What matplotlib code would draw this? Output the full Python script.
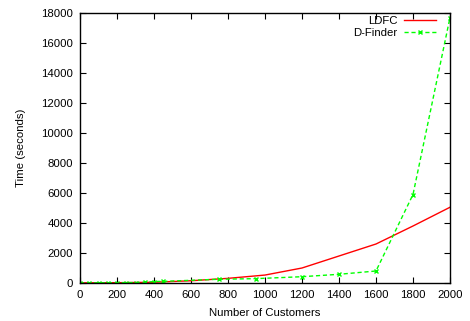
import matplotlib
matplotlib.use("Agg")
import matplotlib.pyplot as plt

plt.rcParams['font.family'] = ['Liberation Sans', 'DejaVu Sans']

ldfc_x = [0, 200, 400, 600, 800, 1000, 1200, 1400, 1600, 1800, 2000]
ldfc_y = [10, 20, 50, 150, 310, 530, 1000, 1800, 2600, 3800, 5050]

dfinder_x = [0, 50, 100, 150, 200, 250, 300, 350, 400, 450, 750, 950, 1200, 1400, 1600, 1800, 2000]
dfinder_y = [5, 8, 10, 15, 20, 25, 30, 40, 100, 110, 250, 290, 420, 580, 800, 5900, 17700]

fig = plt.figure(figsize=(4.7, 3.21), dpi=100)
ax = fig.add_axes([80/470, 1-283/321, 370/470, 270/321])

ax.plot(ldfc_x, ldfc_y, color='#ff0000', lw=1.0, label='LDFC')
ax.plot(dfinder_x, dfinder_y, color='#00ff00', lw=1.0, ls=(0, (3, 2)),
        marker='x', ms=3.2, mew=1.0, label='D-Finder')

ax.set_xlim(0, 2000)
ax.set_ylim(0, 18000)
ax.set_xticks(range(0, 2001, 200))
ax.set_yticks(range(0, 18001, 2000))
ax.tick_params(direction='in', top=True, right=True, length=4, width=0.8, labelsize=8.2, pad=5)
for s in ax.spines.values():
    s.set_linewidth(1.0)
ax.set_xlabel('Number of Customers', fontsize=8.2, labelpad=6)
ax.set_ylabel('Time (seconds)', fontsize=8.2, labelpad=11)

leg = ax.legend(loc='upper right', frameon=False, markerfirst=False, fontsize=8.2,
                handlelength=2.8, borderaxespad=0, borderpad=0, labelspacing=0.15,
                handletextpad=0.6,
                bbox_to_anchor=(436/470, 1-16/321), bbox_transform=fig.transFigure)

fig.savefig('out.png', dpi=100)
